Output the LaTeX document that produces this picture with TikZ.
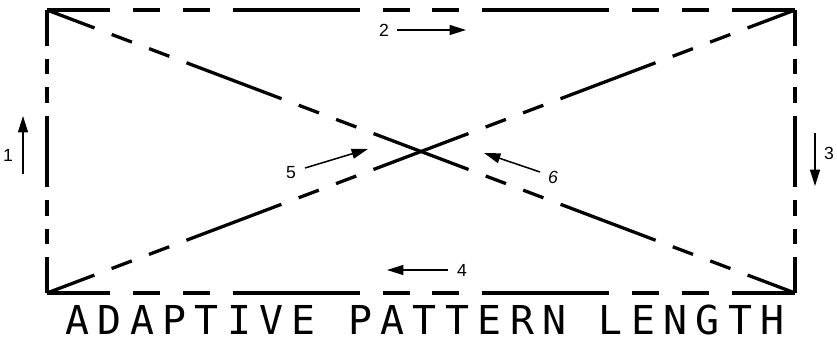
\documentclass[tikz,border=0pt]{standalone}
\usepackage{fontspec}
\setsansfont{Liberation Sans}
\newfontfamily\plotfont[LetterSpace=21]{DejaVu Sans Mono}
\usetikzlibrary{arrows.meta}

\begin{document}
\begin{tikzpicture}[
    x=0.03cm, y=-0.03cm,
    hdash/.style={line width=2.8pt, dash pattern=on 3.800cm off 0.688cm on 0.808cm off 0.688cm on 0.808cm off 0.688cm, dash phase=1.900cm},
    vdash/.style={line width=2.8pt, dash pattern=on 2.156cm off 0.391cm on 0.458cm off 0.391cm on 0.458cm off 0.391cm, dash phase=1.078cm},
    ddash/.style={line width=2.8pt, dash pattern=on 3.047cm off 0.552cm on 0.648cm off 0.552cm on 0.648cm off 0.552cm, dash phase=1.524cm},
    arrow/.style={-{Triangle[length=14pt,width=8.5pt]}, line width=1.3pt},
    num/.style={font=\sffamily\fontsize{15}{15}\selectfont, inner sep=0pt},
]
\useasboundingbox (0,0) rectangle (837,345);

\coordinate (tl) at (47,10);
\coordinate (tr) at (795,10);
\coordinate (br) at (795,293);
\coordinate (bl) at (47,293);

\draw[hdash] (tl) -- (tr);
\draw[hdash] (bl) -- (br);
\draw[vdash] (tl) -- (bl);
\draw[vdash] (tr) -- (br);
\draw[ddash] (tl) -- (br);
\draw[ddash] (tr) -- (bl);

\node[num] (n1) at (8,155) {1};
\node[num] (n2) at (384,30) {2};
\node[num] (n3) at (829,153) {3};
\node[num] (n4) at (462,270) {4};
\node[num] (n5) at (291,173) {5};
\node[num, font=\sffamily\itshape\fontsize{15}{15}\selectfont] (n6) at (553,177) {6};

\coordinate (a1s) at (23,174);  \coordinate (a1e) at (23,116);
\coordinate (a2s) at (397,30);  \coordinate (a2e) at (466,30);
\coordinate (a3s) at (815,133); \coordinate (a3e) at (815,186);
\coordinate (a4s) at (448,270); \coordinate (a4e) at (387,270);
\coordinate (a5s) at (305,168); \coordinate (a5e) at (368,149);
\coordinate (a6s) at (540,172); \coordinate (a6e) at (484,153);

\draw[arrow] (a1s) -- (a1e);
\draw[arrow] (a2s) -- (a2e);
\draw[arrow] (a3s) -- (a3e);
\draw[arrow] (a4s) -- (a4e);
\draw[arrow] (a5s) -- (a5e);
\draw[arrow] (a6s) -- (a6e);

\node[anchor=base, inner sep=0pt, font=\plotfont\fontsize{34}{34}\selectfont] (title) at (425,335) {ADAPTIVE PATTERN LENGTH};
\end{tikzpicture}
\end{document}
